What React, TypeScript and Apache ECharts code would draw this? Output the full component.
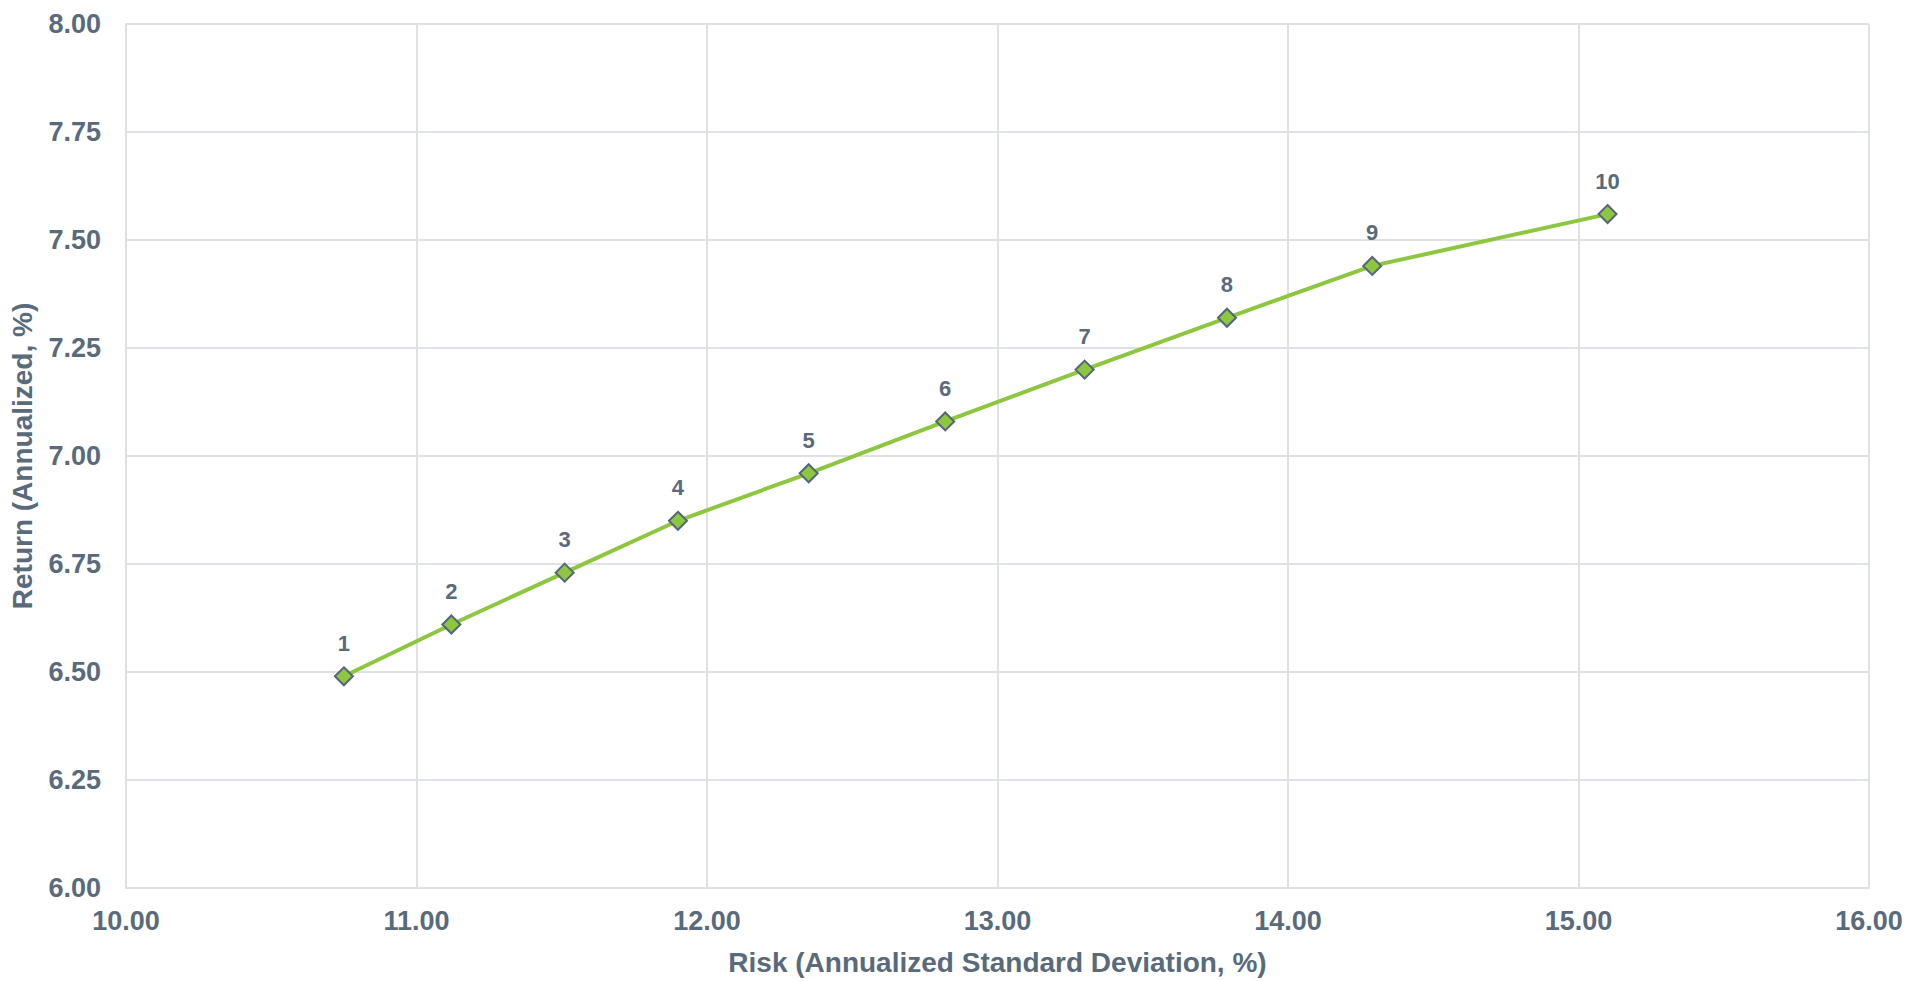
import React, { useEffect, useRef } from "react";
import * as echarts from "echarts";

const pointLabels = ["1", "2", "3", "4", "5", "6", "7", "8", "9", "10"];
const riskValues = [10.75, 11.12, 11.51, 11.9, 12.35, 12.82, 13.3, 13.79, 14.29, 15.1];
const returnValues = [6.49, 6.61, 6.73, 6.85, 6.96, 7.08, 7.2, 7.32, 7.44, 7.56];

const TEXT = "#596A7B";
const GRID = "#DEE2E7";
const FONT = "'Liberation Sans', Arial, sans-serif";

export default function App() {
  const ref = useRef<HTMLDivElement>(null);
  useEffect(() => {
    if (!ref.current) return;
    const chart = echarts.init(ref.current, null, { renderer: "svg" });
    const data = riskValues.map((x, i) => ({ value: [x, returnValues[i]], name: pointLabels[i] }));
    chart.setOption({
      animation: false,
      backgroundColor: "#ffffff",
      grid: { left: 126, right: 56, top: 24, bottom: 89, containLabel: false },
      xAxis: {
        type: "value",
        min: 10,
        max: 16,
        interval: 1,
        name: "Risk (Annualized Standard Deviation, %)",
        nameLocation: "middle",
        nameGap: 60,
        nameTextStyle: { color: TEXT, fontSize: 28, fontWeight: "bold", fontFamily: FONT },
        axisLine: { show: true, lineStyle: { color: GRID, width: 2 } },
        axisTick: { show: false },
        axisLabel: {
          color: TEXT,
          fontSize: 27,
          fontWeight: "bold",
          fontFamily: FONT,
          margin: 19,
          formatter: (v: number) => v.toFixed(2),
        },
        splitLine: { show: true, lineStyle: { color: GRID, width: 2 } },
      },
      yAxis: {
        type: "value",
        min: 6,
        max: 8,
        interval: 0.25,
        name: "Return (Annualized, %)",
        nameLocation: "middle",
        nameGap: 90,
        nameRotate: 90,
        nameTextStyle: { color: TEXT, fontSize: 28, fontWeight: "bold", fontFamily: FONT },
        axisLine: { show: true, lineStyle: { color: GRID, width: 2 } },
        axisTick: { show: false },
        axisLabel: {
          color: TEXT,
          fontSize: 27,
          fontWeight: "bold",
          fontFamily: FONT,
          margin: 25,
          formatter: (v: number) => v.toFixed(2),
        },
        splitLine: { show: true, lineStyle: { color: GRID, width: 2 } },
      },
      series: [
        {
          type: "line",
          data,
          symbol: "diamond",
          symbolSize: 18,
          lineStyle: { color: "#8DC63F", width: 4 },
          itemStyle: { color: "#8DC63F", borderColor: "#56657A", borderWidth: 2 },
          label: {
            show: true,
            position: "top",
            distance: 12,
            formatter: (p: any) => p.name,
            color: TEXT,
            fontSize: 22,
            fontWeight: "bold",
            fontFamily: FONT,
          },
        },
      ],
    });
    return () => chart.dispose();
  }, []);
  return (
    <div
      ref={ref}
      style={{ position: "absolute", left: 0, top: 0, width: 1925, height: 981 }}
    />
  );
}
